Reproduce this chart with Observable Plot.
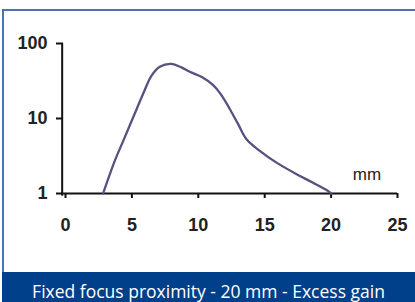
<!DOCTYPE html>
<html>
<head>
<meta charset="utf-8">
<script src="https://cdn.jsdelivr.net/npm/d3@7"></script>
<script src="https://cdn.jsdelivr.net/npm/@observablehq/plot@0.6"></script>
<style>
  html, body { margin: 0; padding: 0; background: #fff; }
  #wrap { position: relative; width: 415px; height: 302px; overflow: hidden; background: #fff; }
  #frame { position: absolute; left: 2px; top: 9px; right: 0; height: 263px;
           border-top: 2px solid #4a72b0; border-left: 2px solid #4a72b0; box-sizing: border-box; }
  #chart { position: absolute; left: 0; top: 0; }
  #caption { position: absolute; left: 2px; right: 0; top: 272px; height: 30px; background: #00408a;
             color: #fff; font-family: "Open Sans", sans-serif; font-size: 17.5px; line-height: 30px;
             text-align: center; white-space: nowrap; padding-top: 4px; box-sizing: border-box; }
</style>
</head>
<body>
<div id="wrap">
  <div id="frame"></div>
  <div id="chart"></div>
  <div id="caption">Fixed focus proximity - 20 mm - Excess gain</div>
</div>
<script>
const distanceMm = [2.83, 3.71, 4.34, 5.09, 5.84, 6.48, 7.1, 7.98, 8.73, 9.36, 10.3, 11.1, 11.7, 12.37, 13.0, 13.63, 14.63, 15.89, 17.4, 18.64, 19.77, 20];
const excessGain = [1, 2.72, 5.0, 10.3, 21.2, 37.3, 49, 53.5, 48, 42, 35.5, 28, 21, 13.4, 8.4, 5.3, 3.7, 2.58, 1.81, 1.39, 1.08, 1];
const xTicks = [0, 5, 10, 15, 20, 25];
const yTicks = [1, 10, 100];
const unitLabel = "mm";

const data = distanceMm.map((d, i) => ({x: d, y: excessGain[i]}));
const tickFont = {fontFamily: "Liberation Sans, Arial, sans-serif", fontSize: 18, fontWeight: "bold", fill: "#222"};

const chart = Plot.plot({
  width: 415,
  height: 272,
  marginLeft: 65,
  marginRight: 18,
  marginTop: 43,
  marginBottom: 79,
  style: {background: "transparent", overflow: "visible"},
  x: {domain: [0, 25]},
  y: {type: "log", domain: [1, 100]},
  marks: [
    Plot.ruleY([1], {x1: -0.25, x2: 25, stroke: "#111", strokeWidth: 2}),
    Plot.ruleX([-0.25], {y1: 0.92, y2: 100, stroke: "#111", strokeWidth: 2}),
    Plot.axisX({ticks: xTicks, tickSize: 5, tickPadding: 20, stroke: "#111", strokeWidth: 2, label: null, tickFormat: d => String(d), ...tickFont, color: "#222"}),
    Plot.axisY({ticks: yTicks, tickSize: 7, tickPadding: 9, stroke: "#111", strokeWidth: 2, label: null, tickFormat: d => String(d), ...tickFont, color: "#222", dx: -2}),
    Plot.line(data, {x: "x", y: "y", stroke: "#57517f", strokeWidth: 2.3, curve: "catmull-rom"}),
    Plot.text([unitLabel], {x: 22.7, y: 1.78, text: d => d, fontFamily: "Liberation Sans, Arial, sans-serif", fontSize: 17, fill: "#222"})
  ]
});
document.getElementById("chart").appendChild(chart);
</script>
</body>
</html>
